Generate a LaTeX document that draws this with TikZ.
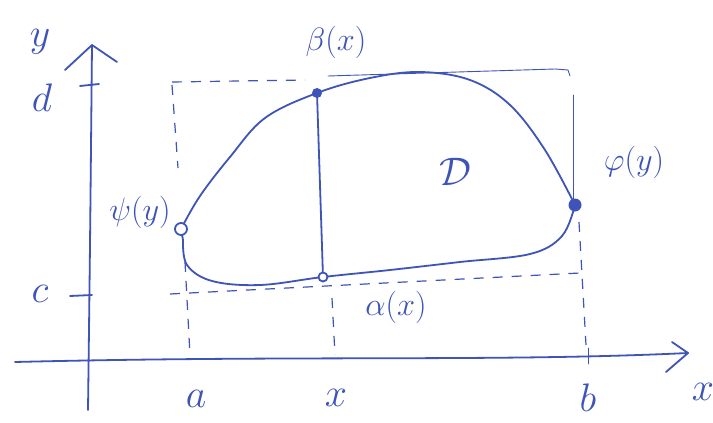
\documentclass[tikz,border=0pt]{standalone}
\usepackage{amsmath}
\begin{document}
\begin{tikzpicture}[x=1pt,y=-1pt,
  ink/.style={draw=inkblue,line width=1.8pt,line cap=round,line join=round},
  fineline/.style={draw=inkblue,line width=0.9pt,line cap=round},
  dsh/.style={draw=inkblue,line width=1.2pt,dash pattern=on 10pt off 9pt},
  lbl/.style={text=inkblue,font=\Huge,scale=1.6,inner sep=0pt},
  slbl/.style={text=inkblue,font=\Huge,scale=1.3,inner sep=0pt}]
\definecolor{inkblue}{RGB}{62,84,182}
\useasboundingbox (0,0) rectangle (713,423);
\fill[white] (0,0) rectangle (713,423);
% axes
\coordinate (yb) at (88,410); \coordinate (yt) at (92,45);
\coordinate (xl) at (15,362); \coordinate (xr) at (688,353);
\draw[ink] (yb) .. controls (90,250) .. (yt);
\draw[ink] (65,70) -- (yt) -- (117,62);
\draw[ink] (xl) .. controls (300,355) and (500,362) .. (xr);
\draw[ink] (672,342) -- (xr) -- (666,372);
% ticks
\draw[ink] (80,86) -- (99,84);
\draw[ink] (70,296) -- (92,295);
\draw[fineline] (588,348) -- (588,364);
% labels
\node[lbl] (ly) at (40,42) {$y$};
\node[lbl] (lx) at (703,392) {$x$};
\node[lbl] (ld) at (42,98) {$d$};
\node[lbl] (lc) at (40,294) {$c$};
\node[lbl] (la) at (196,399) {$a$};
\node[lbl] (lxx) at (336,398) {$x$};
\node[lbl] (lb) at (588,398) {$b$};
% key points
\coordinate (A) at (181,229);
\coordinate (B) at (317,93);
\coordinate (Al) at (323,277);
\coordinate (R) at (575,205);
% region
\draw[ink] plot[smooth, tension=0.6] coordinates {(A) (200,196) (230,157) (265,118) (B) (370,78) (420,72) (470,80) (510,105) (545,150) (R)};
\draw[ink] plot[smooth, tension=0.6] coordinates {(R) (562,236) (530,254) (460,262) (390,270) (Al) (260,285) (212,281) (187,265) (183,240)};
\draw[ink] (A) -- (183,240);
% vertical segment
\draw[ink] (B) -- (Al);
% d line
\draw[dsh] (172,82) -- (305,80);
\draw[fineline] (328,76) -- (555,69) -- (568,70) -- (570,76);
% c line
\draw[dsh] (170,294) -- (580,273);
% verticals
\draw[dsh] (172,85) -- (178,168);
\draw[fineline] (573,95) -- (573,200);
\draw[dsh] (579,222) -- (586,345);
\draw[dsh] (185,262) -- (190,355);
\draw[dsh] (332,298) -- (335,355);
% dots
\draw[ink,fill=white] (A) circle (6pt);
\fill[inkblue] (B) circle (5pt);
\draw[ink,fill=white] (Al) circle (4.5pt);
\fill[inkblue] (R) circle (6.5pt);
% function labels
\node[slbl] (lpsi) at (140,212) {$\psi(y)$};
\node[slbl] (lbeta) at (336,42) {$\beta(x)$};
\node[slbl] (lalpha) at (396,307) {$\alpha(x)$};
\node[slbl] (lphi) at (634,162) {$\varphi(y)$};
\node[lbl] (lD) at (455,172) {$\mathcal{D}$};
\end{tikzpicture}
\end{document}
